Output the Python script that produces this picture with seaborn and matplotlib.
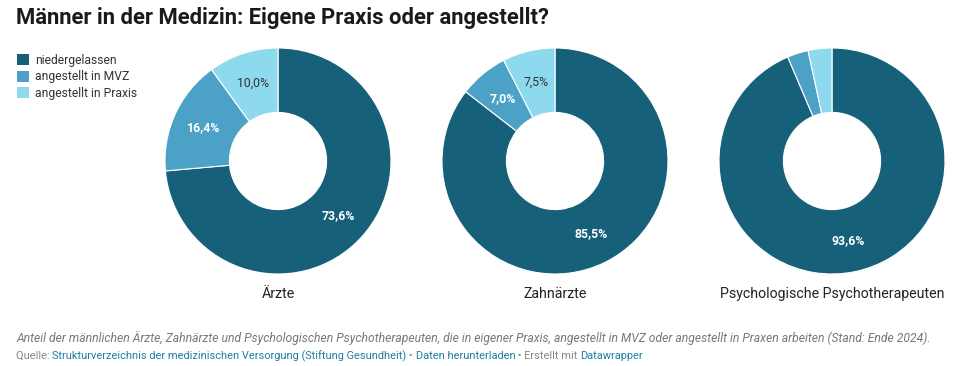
import seaborn as sns
import matplotlib.pyplot as plt
from matplotlib.patches import Patch

# data
groups = ["Ärzte", "Zahnärzte", "Psychologische Psychotherapeuten"]
categories = ["niedergelassen", "angestellt in MVZ", "angestellt in Praxis"]
niedergelassen = [73.6, 85.5, 93.6]
angestellt_mvz = [16.4, 7.0, 3.0]
angestellt_praxis = [10.0, 7.5, 3.4]

colors = ["#17607a", "#4ca2c6", "#8dd9ee"]
label_colors = ["white", "white", "#333333"]

sns.set_theme(style="white")
plt.rcParams["font.family"] = ["Roboto", "DejaVu Sans"]

fig = plt.figure(figsize=(9.79, 3.66), dpi=100)
W, H = 979, 366


def fmt(v):
    return f"{v:.1f}".replace(".", ",") + "%"


centers_x = [278, 555, 832]
center_y = 161
radius = 113

for i, name in enumerate(groups):
    vals = [niedergelassen[i], angestellt_mvz[i], angestellt_praxis[i]]
    cx = centers_x[i]
    ax = fig.add_axes([(cx - radius) / W, (H - center_y - radius) / H,
                       2 * radius / W, 2 * radius / H])
    wedges, texts, autotexts = ax.pie(
        vals, colors=colors, startangle=90, counterclock=False,
        radius=1.0, wedgeprops=dict(width=0.57, edgecolor="white", linewidth=0.8),
        autopct=lambda p: fmt(p) if p >= 5 else "", pctdistance=0.72)
    for j, t in enumerate(autotexts):
        t.set_color(label_colors[j])
        t.set_fontsize(8.8)
        if label_colors[j] == "white":
            t.set_fontweight("semibold")
    ax.set_xlim(-1, 1)
    ax.set_ylim(-1, 1)
    ax.set_aspect("equal")
    ax.axis("off")
    fig.text(cx / W, 1 - 294 / H, name, ha="center", va="center",
             fontsize=10.2, color="#222222")

# title
fig.text(16 / W, 1 - 18 / H, "Männer in der Medizin: Eigene Praxis oder angestellt?",
         ha="left", va="center", fontsize=15.8, fontweight="bold", color="#1a1a1a")

# legend
handles = [Patch(facecolor=c, edgecolor="none") for c in colors]
fig.legend(handles, categories, loc="upper left", bbox_to_anchor=(13 / W, 1 - 50 / H),
           frameon=False, fontsize=8.7, handlelength=1.0, handleheight=1.0,
           handletextpad=0.5, labelspacing=0.3, borderaxespad=0, borderpad=0.3,
           labelcolor="#333333")

# caption
fig.text(16 / W, 1 - 338 / H,
         "Anteil der männlichen Ärzte, Zahnärzte und Psychologischen Psychotherapeuten, "
         "die in eigener Praxis, angestellt in MVZ oder angestellt in Praxen arbeiten "
         "(Stand: Ende 2024).",
         ha="left", va="center", fontsize=8.7, style="italic", color="#777777")

# source line with mixed colours
pieces = [("Quelle: ", "#888888"),
          ("Strukturverzeichnis der medizinischen Versorgung (Stiftung Gesundheit)", "#1d7fa3"),
          (" • ", "#888888"),
          ("Daten herunterladen", "#1d7fa3"),
          (" • Erstellt mit ", "#888888"),
          ("Datawrapper", "#1d7fa3")]
renderer = fig.canvas.get_renderer()
x = 16 / W
for txt, col in pieces:
    t = fig.text(x, 1 - 356 / H, txt, ha="left", va="center", fontsize=7.9, color=col)
    bb = t.get_window_extent(renderer=renderer)
    x += bb.width / W

fig.savefig("out.png", dpi=100)
